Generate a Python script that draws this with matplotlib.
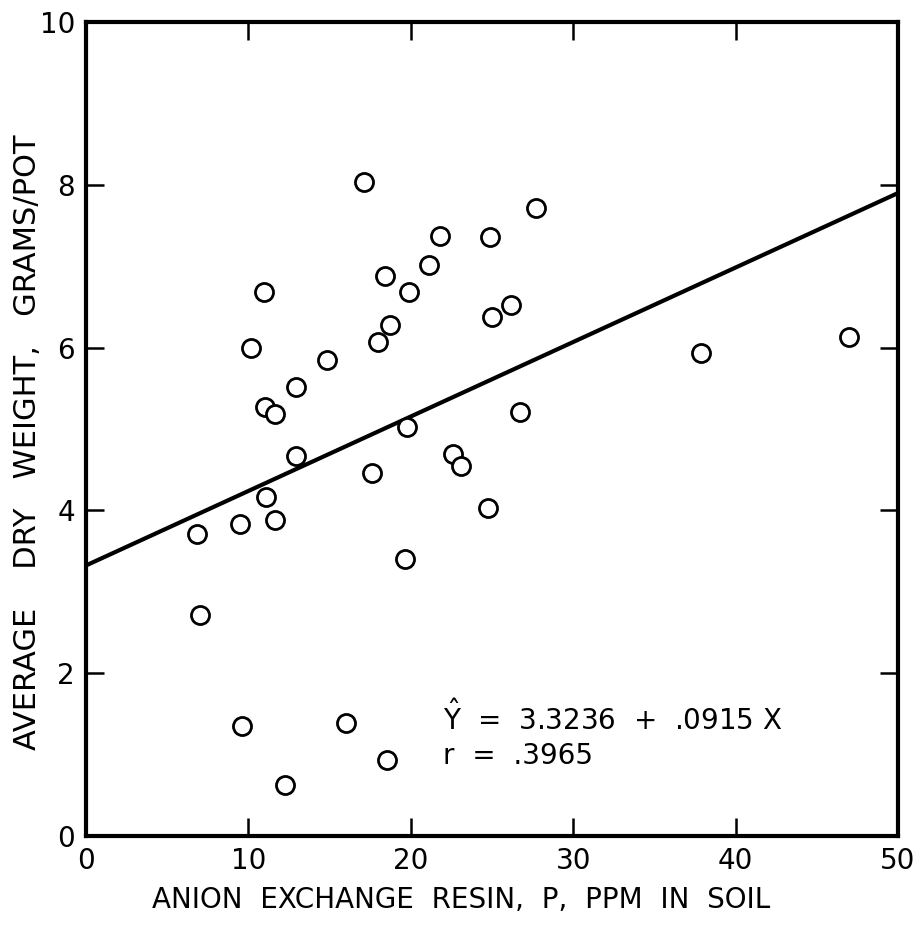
import matplotlib
matplotlib.use("Agg")
import matplotlib.pyplot as plt
import numpy as np

# Anion exchange resin P (ppm in soil) vs. average dry weight (grams/pot)
resin_p = [10.95, 10.15, 14.82, 12.92, 11.01, 11.62, 18.39, 19.86, 21.10, 18.70,
           17.96, 19.74, 12.92, 17.59, 11.07, 9.47, 11.62, 6.83, 19.62, 7.01,
           9.59, 15.99, 18.51, 12.24, 17.10, 27.74, 21.77, 24.90, 26.14, 25.03,
           26.75, 22.57, 23.12, 24.78, 37.88, 46.99]
dry_weight = [6.68, 6.00, 5.85, 5.52, 5.27, 5.18, 6.88, 6.68, 7.01, 6.28,
              6.07, 5.02, 4.67, 4.46, 4.16, 3.83, 3.88, 3.71, 3.40, 2.71,
              1.35, 1.39, 0.93, 0.63, 8.03, 7.71, 7.37, 7.36, 6.52, 6.38,
              5.21, 4.69, 4.55, 4.03, 5.93, 6.13]

intercept = 3.3236
slope = 0.0915
r_value = 0.3965

x_ticks = [0, 10, 20, 30, 40, 50]
y_ticks = [0, 2, 4, 6, 8, 10]

plt.rcParams['font.family'] = ['DejaVu Sans']

fig = plt.figure(figsize=(9.22, 9.30), dpi=100)
ax = fig.add_axes([86 / 922, 94 / 930, 812 / 922, 814 / 930])

ax.plot(resin_p, dry_weight, linestyle='none', marker='o', markersize=13,
        markerfacecolor='white', markeredgecolor='black', markeredgewidth=2.0,
        zorder=3)

xl = np.array([0, 50])
ax.plot(xl, intercept + slope * xl, color='black', linewidth=3.0, zorder=2,
        solid_capstyle='butt')

ax.set_xlim(0, 50)
ax.set_ylim(0, 10)
ax.set_xticks(x_ticks)
ax.set_yticks(y_ticks)
ax.set_xticklabels([str(t) for t in x_ticks])
ax.set_yticklabels([str(t) for t in y_ticks])

for s in ax.spines.values():
    s.set_linewidth(3.0)

ax.tick_params(direction='in', length=13, width=1.8, top=True, right=True,
               labelsize=20, colors='black')
ax.tick_params(axis='x', pad=8)
ax.tick_params(axis='y', pad=8)

ax.set_xlabel('ANION  EXCHANGE  RESIN,  P,  PPM  IN  SOIL', fontsize=20)
ax.xaxis.set_label_coords(0.462, -0.062)
ax.set_ylabel('AVERAGE    DRY   WEIGHT,   GRAMS/POT', fontsize=22)
ax.yaxis.set_label_coords(-0.054, 0.484)

ax.text(22.0, 1.45, r'$\hat{\mathrm{Y}}$  =  3.3236  +  .0915 X', fontsize=20,
        ha='left', va='center', math_fontfamily='dejavusans')
ax.text(22.0, 0.98, 'r  =  .3965', fontsize=20, ha='left', va='center')

fig.savefig('out.png', dpi=100, facecolor='white')
